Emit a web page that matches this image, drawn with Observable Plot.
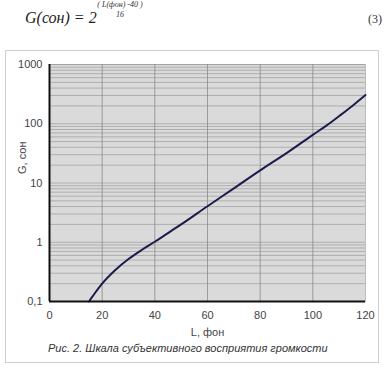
<!DOCTYPE html>
<html>
<head>
<meta charset="utf-8">
<script src="https://cdn.jsdelivr.net/npm/d3@7"></script>
<script src="https://cdn.jsdelivr.net/npm/@observablehq/plot@0.6"></script>
<style>
  body { margin: 0; background: #fff; }
  #wrap { position: relative; width: 387px; height: 371px; overflow: hidden; background: #fff; }
  #box { position: absolute; left: 5px; top: 50px; width: 372px; height: 311px; border: 1px solid #d0d0d0; }
  #formula { position: absolute; left: 25px; top: 9px; font-family: "Liberation Serif", serif; font-style: italic; font-size: 16px; color: #222; }
  #expo { position: absolute; left: 92px; top: 0px; font-family: "Liberation Serif", serif; font-style: italic; font-size: 8px; color: #333; text-align: center; width: 56px; line-height: 10px; }
  #eqn { position: absolute; left: 368px; top: 12px; font-family: "Liberation Serif", serif; font-size: 12px; color: #333; }
  #caption { position: absolute; left: 48px; top: 342px; font-family: "Liberation Sans", sans-serif; font-style: italic; font-size: 11px; color: #333; }
  #chart { position: absolute; left: 0; top: 0; }
</style>
</head>
<body>
<div id="wrap">
  <div id="box"></div>
  <div id="formula">G(сон) = 2</div>
  <div id="expo">( L(фон) -40 )<br>16</div>
  <div id="eqn">(3)</div>
  <div id="chart"></div>
  <div id="caption">Рис. 2. Шкала субъективного восприятия громкости</div>
</div>
<script>
// Loudness level, phon
const phon = [15, 16, 17, 20, 25, 30, 35, 40, 45, 50, 60, 70, 80, 90, 100, 105, 110, 115, 120];
// Loudness, sone
const sone = [0.1, 0.116, 0.134, 0.2, 0.34, 0.52, 0.74, 1.02, 1.43, 2.0, 4.05, 8.1, 16.3, 32, 65, 92, 135, 200, 305];

const xTicks = [0, 20, 40, 60, 80, 100, 120];
const yTicks = [0.1, 1, 10, 100, 1000];
const yTickLabels = ["0,1", "1", "10", "100", "1000"];
const xLabel = "L, фон";
const yLabel = "G, сон";

const data = phon.map((p, i) => ({phon: p, sone: sone[i]}));

// log minor gridlines (2..9 × decade) and decades
const minor = [];
for (const d of [0.1, 1, 10, 100]) for (let k = 1; k <= 9; k++) minor.push(+(d * k).toPrecision(3));
minor.push(1000);

const chart = Plot.plot({
  width: 387,
  height: 371,
  marginTop: 64,
  marginBottom: 70,
  marginLeft: 49,
  marginRight: 22,
  style: {fontFamily: "Liberation Sans, sans-serif", fontSize: "11px", color: "#444", background: "transparent"},
  x: {domain: [0, 120]},
  y: {type: "log", domain: [0.1, 1000]},
  marks: [
    Plot.frame({fill: "#dadada", stroke: "#bdbdbd"}),
    Plot.ruleY(minor, {stroke: "#8c8c8c", strokeWidth: 0.8, strokeOpacity: 0.7}),
    Plot.ruleX(xTicks.filter(d => d > 0 && d < 120), {stroke: "#8a8a8a", strokeWidth: 0.8}),
    Plot.axisX({ticks: xTicks, tickSize: 0, tickPadding: 10, label: xLabel, labelAnchor: "center", labelArrow: "none", labelOffset: 34, fontSize: 11}),
    Plot.axisY({ticks: yTicks, tickSize: 0, tickPadding: 7, tickFormat: d => yTickLabels[yTicks.indexOf(d)], label: null}),
    Plot.text([yLabel], {frameAnchor: "left", dx: -27, dy: -9, rotate: -90, fontSize: 11, fill: "#444"}),
    Plot.line(data, {x: "phon", y: "sone", stroke: "#1c1c4c", strokeWidth: 2, curve: "monotone-x"}),
    Plot.ruleX([0], {stroke: "#111", strokeWidth: 2}),
    Plot.ruleY([0.1], {stroke: "#111", strokeWidth: 2})
  ]
});
document.getElementById("chart").appendChild(chart);
</script>
</body>
</html>
